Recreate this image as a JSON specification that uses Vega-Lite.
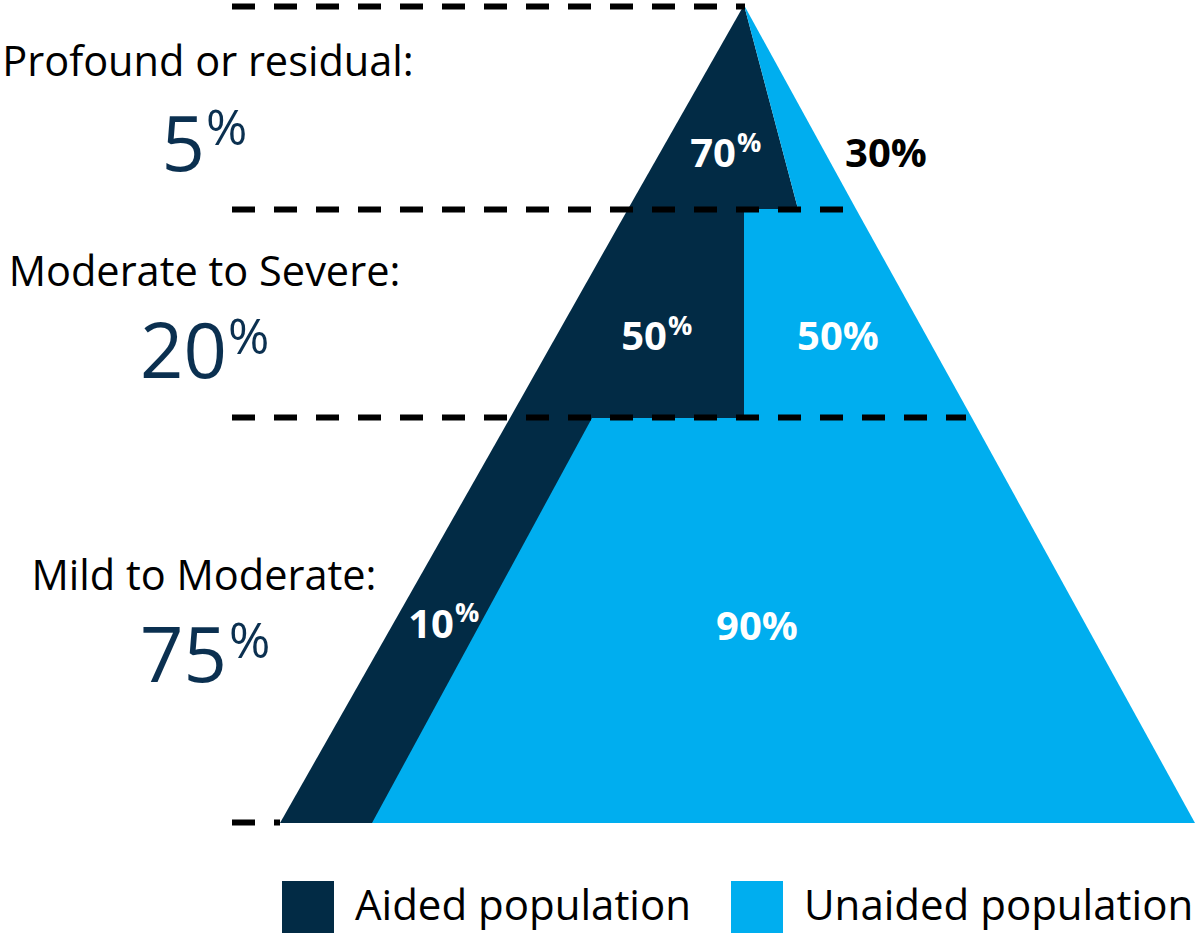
{
  "$schema": "https://vega.github.io/schema/vega-lite/v6.json",
  "width": 1195,
  "height": 938,
  "autosize": {"type": "none"},
  "padding": 0,
  "background": "white",
  "config": {"view": {"stroke": null}, "font": "Open Sans"},
  "datasets": {
    "shapes": [
      {"shape": "A1", "group": "Aided population", "y": 933, "x": 744, "x2": 744},
      {"shape": "A1", "group": "Aided population", "y": 729, "x": 628, "x2": 798},
      {"shape": "U1", "group": "Unaided population", "y": 933, "x": 744, "x2": 744},
      {"shape": "U1", "group": "Unaided population", "y": 729, "x": 798, "x2": 856},
      {"shape": "A2", "group": "Aided population", "y": 729, "x": 628, "x2": 745},
      {"shape": "A2", "group": "Aided population", "y": 520, "x": 510, "x2": 745},
      {"shape": "U2", "group": "Unaided population", "y": 729, "x": 744, "x2": 856},
      {"shape": "U2", "group": "Unaided population", "y": 520, "x": 744, "x2": 972},
      {"shape": "A3", "group": "Aided population", "y": 520, "x": 510, "x2": 593},
      {"shape": "A3", "group": "Aided population", "y": 115, "x": 280, "x2": 373},
      {"shape": "U3", "group": "Unaided population", "y": 520, "x": 592, "x2": 972},
      {"shape": "U3", "group": "Unaided population", "y": 115, "x": 372, "x2": 1195}
    ],
    "guides": [
      {"y": 931.5, "x": 232, "x2": 745},
      {"y": 728.5, "x": 232, "x2": 856},
      {"y": 520.5, "x": 232, "x2": 966},
      {"y": 115.5, "x": 232, "x2": 280}
    ],
    "levelNames": [
      {"text": "Profound or residual:", "x": 208, "y": 862},
      {"text": "Moderate to Severe:", "x": 204.5, "y": 652},
      {"text": "Mild to Moderate:", "x": 204, "y": 348}
    ],
    "levelShares": [
      {"text": "5", "x": 205, "y": 767},
      {"text": "20", "x": 227, "y": 560},
      {"text": "75", "x": 227, "y": 256}
    ],
    "levelPct": [
      {"text": "%", "x": 206, "y": 793},
      {"text": "%", "x": 228, "y": 584},
      {"text": "%", "x": 229, "y": 280}
    ],
    "supNums": [
      {"text": "70", "x": 736, "y": 771},
      {"text": "50", "x": 667, "y": 588},
      {"text": "10", "x": 454, "y": 300}
    ],
    "supPct": [
      {"text": "%", "x": 737, "y": 786},
      {"text": "%", "x": 668, "y": 603},
      {"text": "%", "x": 455, "y": 316}
    ],
    "whiteFull": [
      {"text": "50%", "x": 838, "y": 588},
      {"text": "90%", "x": 757, "y": 298}
    ],
    "blackFull": [
      {"text": "30%", "x": 886, "y": 771}
    ]
  },
  "layer": [
    {
      "data": {"name": "shapes"},
      "mark": {"type": "area", "orient": "horizontal", "interpolate": "linear"},
      "encoding": {
        "y": {"field": "y", "type": "quantitative", "scale": {"domain": [0, 938], "nice": false, "zero": false}, "axis": null},
        "x": {"field": "x", "type": "quantitative", "stack": null, "scale": {"domain": [0, 1195], "nice": false, "zero": false}, "axis": null},
        "x2": {"field": "x2"},
        "detail": {"field": "shape"},
        "color": {
          "field": "group", "type": "nominal",
          "scale": {"domain": ["Aided population", "Unaided population"], "range": ["#022b45", "#00aeef"]},
          "legend": {
            "orient": "none", "legendX": 282, "legendY": 881, "direction": "horizontal",
            "title": null, "padding": 0, "symbolType": "square", "symbolSize": 2704,
            "symbolStrokeWidth": 0, "symbolOpacity": 1, "labelFontSize": 42, "labelFont": "Open Sans",
            "labelColor": "#000000", "labelOffset": 21, "columnPadding": 40, "labelLimit": 600
          }
        }
      }
    },
    {
      "data": {"name": "guides"},
      "mark": {"type": "rule", "color": "#000000", "strokeWidth": 6, "strokeDash": [23, 19]},
      "encoding": {
        "y": {"field": "y", "type": "quantitative"},
        "x": {"field": "x", "type": "quantitative"},
        "x2": {"field": "x2"}
      }
    },
    {
      "data": {"name": "levelNames"},
      "mark": {"type": "text", "align": "center", "baseline": "alphabetic", "fontSize": 41.5, "color": "#000000"},
      "encoding": {
        "y": {"field": "y", "type": "quantitative"},
        "x": {"field": "x", "type": "quantitative"},
        "text": {"field": "text"}
      }
    },
    {
      "data": {"name": "levelShares"},
      "mark": {"type": "text", "align": "right", "baseline": "alphabetic", "fontSize": 76, "color": "#0b3050"},
      "encoding": {
        "y": {"field": "y", "type": "quantitative"},
        "x": {"field": "x", "type": "quantitative"},
        "text": {"field": "text"}
      }
    },
    {
      "data": {"name": "levelPct"},
      "mark": {"type": "text", "align": "left", "baseline": "alphabetic", "fontSize": 50, "color": "#0b3050"},
      "encoding": {
        "y": {"field": "y", "type": "quantitative"},
        "x": {"field": "x", "type": "quantitative"},
        "text": {"field": "text"}
      }
    },
    {
      "data": {"name": "supNums"},
      "mark": {"type": "text", "align": "right", "baseline": "alphabetic", "fontSize": 40, "fontWeight": "bold", "color": "#ffffff"},
      "encoding": {
        "y": {"field": "y", "type": "quantitative"},
        "x": {"field": "x", "type": "quantitative"},
        "text": {"field": "text"}
      }
    },
    {
      "data": {"name": "supPct"},
      "mark": {"type": "text", "align": "left", "baseline": "alphabetic", "fontSize": 27, "fontWeight": "bold", "color": "#ffffff"},
      "encoding": {
        "y": {"field": "y", "type": "quantitative"},
        "x": {"field": "x", "type": "quantitative"},
        "text": {"field": "text"}
      }
    },
    {
      "data": {"name": "whiteFull"},
      "mark": {"type": "text", "align": "center", "baseline": "alphabetic", "fontSize": 40, "fontWeight": "bold", "color": "#ffffff"},
      "encoding": {
        "y": {"field": "y", "type": "quantitative"},
        "x": {"field": "x", "type": "quantitative"},
        "text": {"field": "text"}
      }
    },
    {
      "data": {"name": "blackFull"},
      "mark": {"type": "text", "align": "center", "baseline": "alphabetic", "fontSize": 40, "fontWeight": "bold", "color": "#000000"},
      "encoding": {
        "y": {"field": "y", "type": "quantitative"},
        "x": {"field": "x", "type": "quantitative"},
        "text": {"field": "text"}
      }
    }
  ]
}
